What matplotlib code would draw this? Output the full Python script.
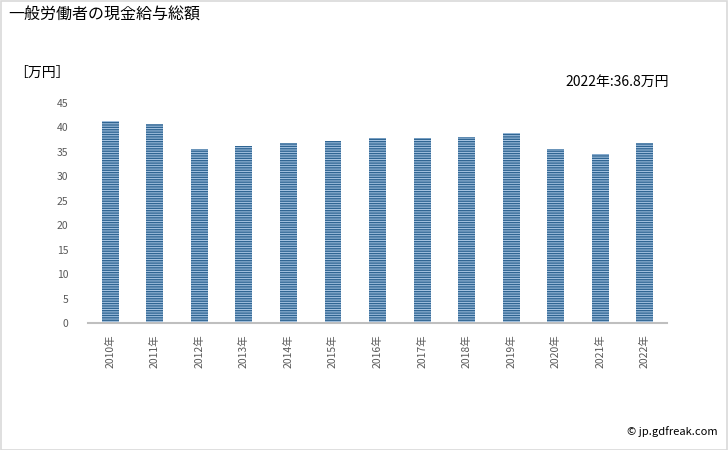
import matplotlib
matplotlib.use("Agg")
import matplotlib.pyplot as plt
from matplotlib.patches import Rectangle

plt.rcParams['font.family'] = ['Noto Sans CJK JP', 'DejaVu Sans']
plt.rcParams['hatch.linewidth'] = 1.0

years = ['2010年', '2011年', '2012年', '2013年', '2014年', '2015年', '2016年',
         '2017年', '2018年', '2019年', '2020年', '2021年', '2022年']
values = [41.3, 40.7, 35.6, 36.2, 36.8, 37.2, 37.8, 37.8, 38.0, 38.8, 35.6, 34.6, 36.8]
yticks = [0, 5, 10, 15, 20, 25, 30, 35, 40, 45]

title = '一般労働者の現金給与総額'
unit = '［万円］'
note = '2022年:36.8万円'
credit = '© jp.gdfreak.com'

fig = plt.figure(figsize=(7.28, 4.5), dpi=100)
ax = fig.add_axes([0.1209, 0.2822, 0.7953, 0.4889])

x = list(range(len(years)))
ax.bar(x, values, width=0.38, color='#a9c6e4', edgecolor='#2f6592',
       hatch='-------', linewidth=0)

ax.set_xlim(-0.5, len(years) - 0.5)
ax.set_ylim(0, 45)
ax.set_yticks(yticks)
ax.set_yticklabels([str(v) for v in yticks], fontsize=7.5, color='#595959')
ax.set_xticks(x)
ax.set_xticklabels(years, rotation=90, fontsize=7.5, color='#595959')
ax.tick_params(axis='both', length=0)
ax.tick_params(axis='y', pad=14)
ax.tick_params(axis='x', pad=8)
for s in ['left', 'right', 'top']:
    ax.spines[s].set_visible(False)
ax.spines['bottom'].set_color('#bfbfbf')
ax.spines['bottom'].set_linewidth(1.5)

fig.text(8 / 728, 1 - 15 / 450, title, fontsize=11.5, va='center', ha='left', color='#000000')
fig.text(14 / 728, 1 - 73 / 450, unit, fontsize=10, va='center', ha='left', color='#000000')
fig.text(669 / 728, 1 - 82 / 450, note, fontsize=10, va='center', ha='right', color='#000000')
fig.text(718 / 728, 1 - 432 / 450, credit, fontsize=8, va='center', ha='right', color='#000000')

fig.patches.append(Rectangle((0.001, 0.001), 0.998, 0.997, transform=fig.transFigure,
                             fill=False, edgecolor='#d9d9d9', linewidth=1.2))

fig.savefig('out.png', dpi=100)
